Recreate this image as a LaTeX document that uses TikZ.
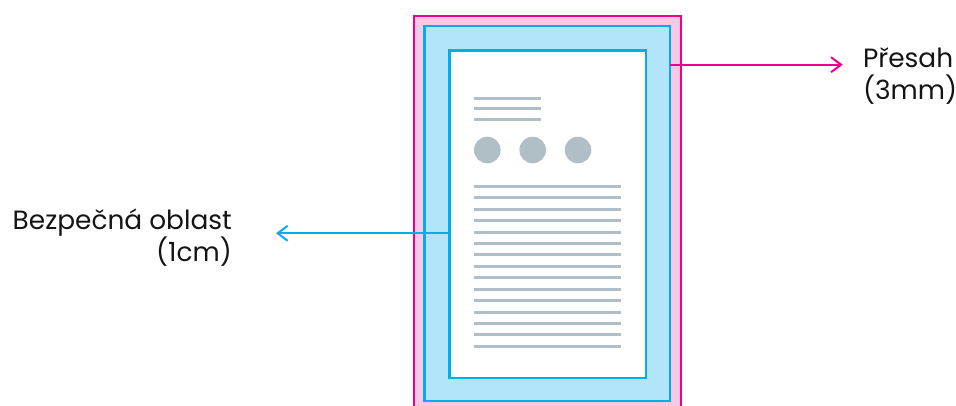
\documentclass[tikz,border=0pt]{standalone}
\usepackage{fontspec}
\setmainfont{Poppins}
\usepackage{xcolor}
\usetikzlibrary{arrows.meta,positioning}
\definecolor{bleedpink}{HTML}{EC008C}
\definecolor{bleedfill}{HTML}{F9C8E4}
\definecolor{trimblue}{HTML}{00AEEF}
\definecolor{trimfill}{HTML}{B3E5FA}
\definecolor{linegray}{HTML}{B0BEC5}
\definecolor{textblack}{HTML}{141414}

\begin{document}
\begin{tikzpicture}[
  x=1pt, y=-1pt,
  bleedbox/.style={draw=bleedpink, fill=bleedfill, line width=2pt, anchor=north west, inner sep=0pt, outer sep=0pt},
  trimbox/.style={draw=trimblue, fill=trimfill, line width=2.3pt, anchor=north west, inner sep=0pt, outer sep=0pt},
  safebox/.style={draw=trimblue, fill=white, line width=2.5pt, anchor=north west, inner sep=0pt, outer sep=0pt},
  textline/.style={draw=linegray, line width=3pt},
  bullet/.style={circle, fill=linegray, minimum size=26.6pt, inner sep=0pt},
  pointer/.style={-{Straight Barb[length=10pt, width=15pt]}, line width=2pt},
  note/.style={font=\fontsize{26.4}{32}\selectfont, text=textblack, inner sep=0pt}
]
\useasboundingbox (0,0) rectangle (956,405);

% page frames
\node[bleedbox, minimum width=266.7pt, minimum height=420pt] (bleed) at (414.3,15.7) {};
\node[trimbox, minimum width=245.4pt, minimum height=375.3pt] (trim) at (424.4,25.9) {};
\node[safebox, minimum width=196.5pt, minimum height=327.1pt] (safe) at (449.3,50.7) {};

% page content
\foreach \y in {98.3,108.5,119}
  \draw[textline] (474,\y) -- (541,\y);
\foreach \x [count=\n] in {487.3,532.7,578}
  \node[bullet] (dot\n) at (\x,150) {};
\foreach \i in {0,...,14}
  \draw[textline] (474,{186.3+11.43*\i}) -- (621,{186.3+11.43*\i});

% labels
\coordinate (bleedtip) at (842.7,64.7);
\coordinate (safetip) at (276,233.3);
\node[note, anchor=base west, align=left] (bleedtext) at (863,99.3) {Přesah\\(3mm)};
\node[note, anchor=base east, align=right] (safetext) at (232,261.3) {Bezpečná oblast\\(1cm)};

\draw[pointer, draw=bleedpink] (trim.east |- bleedtip) -- (bleedtip);
\draw[pointer, draw=trimblue] (safe.west |- safetip) -- (safetip);
\end{tikzpicture}
\end{document}
